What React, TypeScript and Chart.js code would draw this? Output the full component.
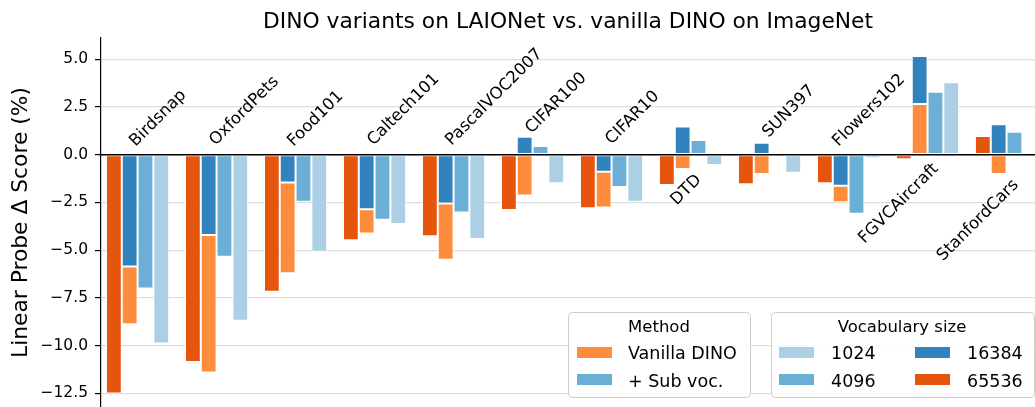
import React, { useEffect, useRef } from 'react';
import { Chart, registerables } from 'chart.js';

Chart.register(...registerables);

const FONT = '"DejaVu Sans", "Liberation Sans", sans-serif';

// ---------- data ----------
const categories = [
  'Birdsnap', 'OxfordPets', 'Food101', 'Caltech101', 'PascalVOC2007', 'CIFAR100',
  'CIFAR10', 'DTD', 'SUN397', 'Flowers102', 'FGVCAircraft', 'StanfordCars',
];
// Vocabulary size 65536 (vanilla DINO)
const vocab65536 = [-12.5, -10.85, -7.17, -4.48, -4.27, -2.9, -2.81, -1.59, -1.55, -1.5, -0.24, 0.98];
// Vocabulary size 16384: vanilla DINO vs + Sub voc.
const vanilla16384 = [-8.88, -11.41, -6.21, -4.12, -5.5, -2.13, -2.76, -0.75, -1.01, -2.49, 2.65, -1.01];
const subvoc16384 = [-5.86, -4.2, -1.46, -2.86, -2.55, 0.94, -0.89, 1.47, 0.63, -1.62, 5.17, 1.59];
// Vocabulary size 4096 and 1024 (+ Sub voc.)
const vocab4096 = [-7.0, -5.34, -2.46, -3.4, -3.02, 0.46, -1.69, 0.77, 0.0, -3.09, 3.3, 1.2];
const vocab1024 = [-9.88, -8.69, -5.08, -3.63, -4.41, -1.5, -2.46, -0.54, -0.94, -0.19, 3.79, 0.1];

const yTickStep = 2.5;
const yMin = -13.21;
const yMax = 6.11;
const xMin = -0.463;
const xMax = 11.36;

// category label placement (data units)
const labelSide = ['above', 'above', 'above', 'above', 'above', 'above', 'above', 'below', 'above', 'above', 'below', 'below'];
const labelDx = [-0.134, -0.122, -0.134, -0.122, -0.134, -0.122, -0.109, 0.144, -0.122, -0.235, 0.144, 0.157];
const labelY = [0.4, 0.46, 0.4, 0.46, 0.46, 1.08, 0.51, -0.91, 0.87, 0.4, -0.33, -1.17];

const COLORS = {
  v65536: '#e6550d',
  v16384: '#3182bd',
  v4096: '#6baed6',
  v1024: '#abd0e6',
  vanilla: '#fd8d3c',
  sub: '#6baed6',
};

// visible segment of one of two overlapping bars drawn from zero (smaller magnitude in front)
const frontBack = (self: number, other: number): [number, number] =>
  self * other > 0 && Math.abs(other) < Math.abs(self) ? [other, self] : [0, self];

const fmtTick = (v: number) => {
  const s = Math.abs(v).toFixed(1);
  return v < 0 ? '\u2212' + s : s;
};

const overlayPlugin = {
  id: 'overlay',
  afterDatasetsDraw(chart: any) {
    const { ctx, chartArea, scales } = chart;
    const y0 = scales.y.getPixelForValue(0);
    ctx.save();
    ctx.strokeStyle = '#000';
    ctx.lineWidth = 1.5;
    ctx.beginPath();
    ctx.moveTo(chartArea.left, y0);
    ctx.lineTo(chartArea.right, y0);
    ctx.stroke();
    ctx.restore();
  },
  afterDraw(chart: any) {
    const { ctx, chartArea, scales } = chart;
    const xs = scales.x;
    const ys = scales.y;
    ctx.save();
    ctx.fillStyle = '#000';

    // title
    ctx.font = `21.8px ${FONT}`;
    ctx.textAlign = 'center';
    ctx.textBaseline = 'alphabetic';
    ctx.fillText('DINO variants on LAIONet vs. vanilla DINO on ImageNet', (chartArea.left + chartArea.right) / 2, 28);

    // y axis title
    ctx.save();
    ctx.translate(27, (chartArea.top + chartArea.bottom) / 2);
    ctx.rotate(-Math.PI / 2);
    ctx.font = `21.8px ${FONT}`;
    ctx.textAlign = 'center';
    ctx.fillText('Linear Probe \u0394 Score (%)', 0, 0);
    ctx.restore();

    // category labels
    ctx.font = `16.5px ${FONT}`;
    ctx.textAlign = 'left';
    ctx.textBaseline = 'alphabetic';
    const k = Math.SQRT1_2;
    categories.forEach((c, i) => {
      const m = ctx.measureText(c);
      const a = m.actualBoundingBoxAscent;
      const w = m.width;
      const px = xs.getPixelForValue(i + labelDx[i]);
      const py = ys.getPixelForValue(labelY[i]);
      let ax: number;
      let ay: number;
      if (labelSide[i] === 'above') {
        ax = px + k * a;
        ay = py;
      } else {
        ax = px - k * w;
        ay = py + k * (w + a);
      }
      ctx.save();
      ctx.translate(ax, ay);
      ctx.rotate(-Math.PI / 4);
      ctx.fillText(c, 0, 0);
      ctx.restore();
    });

    // legends
    const box = (x: number, y: number, w: number, h: number) => {
      ctx.save();
      ctx.beginPath();
      ctx.roundRect(x + 0.5, y + 0.5, w, h, 4);
      ctx.fillStyle = 'rgba(255,255,255,0.85)';
      ctx.fill();
      ctx.strokeStyle = '#cccccc';
      ctx.lineWidth = 1;
      ctx.stroke();
      ctx.restore();
    };
    const patch = (x: number, y: number, color: string) => {
      ctx.fillStyle = color;
      ctx.fillRect(x, y, 35, 11);
    };
    box(568, 312, 182, 85);
    box(771, 312, 263, 85);

    ctx.fillStyle = '#000';
    ctx.font = `16.5px ${FONT}`;
    ctx.textAlign = 'center';
    ctx.fillText('Method', 659, 332);
    ctx.fillText('Vocabulary size', 902, 332);

    patch(577, 347, COLORS.vanilla);
    patch(577, 374, COLORS.sub);
    patch(779, 347, COLORS.v1024);
    patch(779, 374, COLORS.v4096);
    patch(915, 347, COLORS.v16384);
    patch(915, 374, COLORS.v65536);

    ctx.fillStyle = '#000';
    ctx.font = `17.5px ${FONT}`;
    ctx.textAlign = 'left';
    ctx.fillText('Vanilla DINO', 628, 359);
    ctx.fillText('+ Sub voc.', 628, 387);
    ctx.fillText('1024', 831, 359);
    ctx.fillText('4096', 831, 387);
    ctx.fillText('16384', 967, 359);
    ctx.fillText('65536', 967, 387);

    ctx.restore();
  },
};

export default function App() {
  const canvasRef = useRef<HTMLCanvasElement | null>(null);

  useEffect(() => {
    const canvas = canvasRef.current;
    if (!canvas) return;

    const pts = (vals: number[]) => vals.map((v, i) => ({ x: i, y: v }));
    const barStyle = {
      borderColor: '#ffffff',
      borderWidth: 1,
      borderSkipped: false as const,
      categoryPercentage: 0.8,
      barPercentage: 1.0,
    };

    const chart = new Chart(canvas, {
      type: 'bar',
      data: {
        datasets: [
          { label: '65536', data: pts(vocab65536), backgroundColor: COLORS.v65536, stack: 's0', ...barStyle },
          {
            label: 'Vanilla DINO 16384',
            data: vanilla16384.map((v, i) => ({ x: i, y: frontBack(v, subvoc16384[i]) })),
            backgroundColor: COLORS.vanilla,
            stack: 's1',
            ...barStyle,
          },
          {
            label: '16384',
            data: subvoc16384.map((v, i) => ({ x: i, y: frontBack(v, vanilla16384[i]) })),
            backgroundColor: COLORS.v16384,
            stack: 's1',
            ...barStyle,
          },
          { label: '4096', data: pts(vocab4096), backgroundColor: COLORS.v4096, stack: 's2', ...barStyle },
          { label: '1024', data: pts(vocab1024), backgroundColor: COLORS.v1024, stack: 's3', ...barStyle },
        ] as any,
      },
      options: {
        animation: false,
        responsive: false,
        devicePixelRatio: 1,
        layout: { padding: { top: 38, left: 0, right: 0, bottom: 0 } },
        plugins: {
          legend: { display: false },
          tooltip: { enabled: false },
          title: { display: false },
        },
        scales: {
          x: {
            type: 'linear',
            min: xMin,
            max: xMax,
            offset: false,
            stacked: true,
            display: false,
            afterFit: (scale: any) => {
              scale.paddingLeft = 0;
              scale.paddingRight = 0;
            },
          },
          y: {
            type: 'linear',
            min: yMin,
            max: yMax,
            stacked: false,
            afterFit: (scale: any) => {
              scale.width = 101;
              scale.paddingTop = 0;
              scale.paddingBottom = 0;
            },
            border: { display: true, color: '#000', width: 1.2 },
            grid: {
              color: '#dddddd',
              lineWidth: 1.2,
              tickColor: '#000',
              tickLength: 6,
              drawTicks: true,
            },
            ticks: {
              stepSize: yTickStep,
              includeBounds: false,
              color: '#000',
              padding: 7,
              font: { family: FONT, size: 15.5 },
              callback: (v: any) => fmtTick(Number(v)),
            },
          },
        },
      } as any,
      plugins: [overlayPlugin],
    });

    return () => chart.destroy();
  }, []);

  return (
    <div
      style={{
        position: 'fixed',
        left: 0,
        top: 0,
        width: 1035,
        height: 407,
        overflow: 'hidden',
        background: '#fff',
      }}
    >
      <canvas ref={canvasRef} width={1035} height={407} style={{ width: 1035, height: 407, display: 'block' }} />
    </div>
  );
}
